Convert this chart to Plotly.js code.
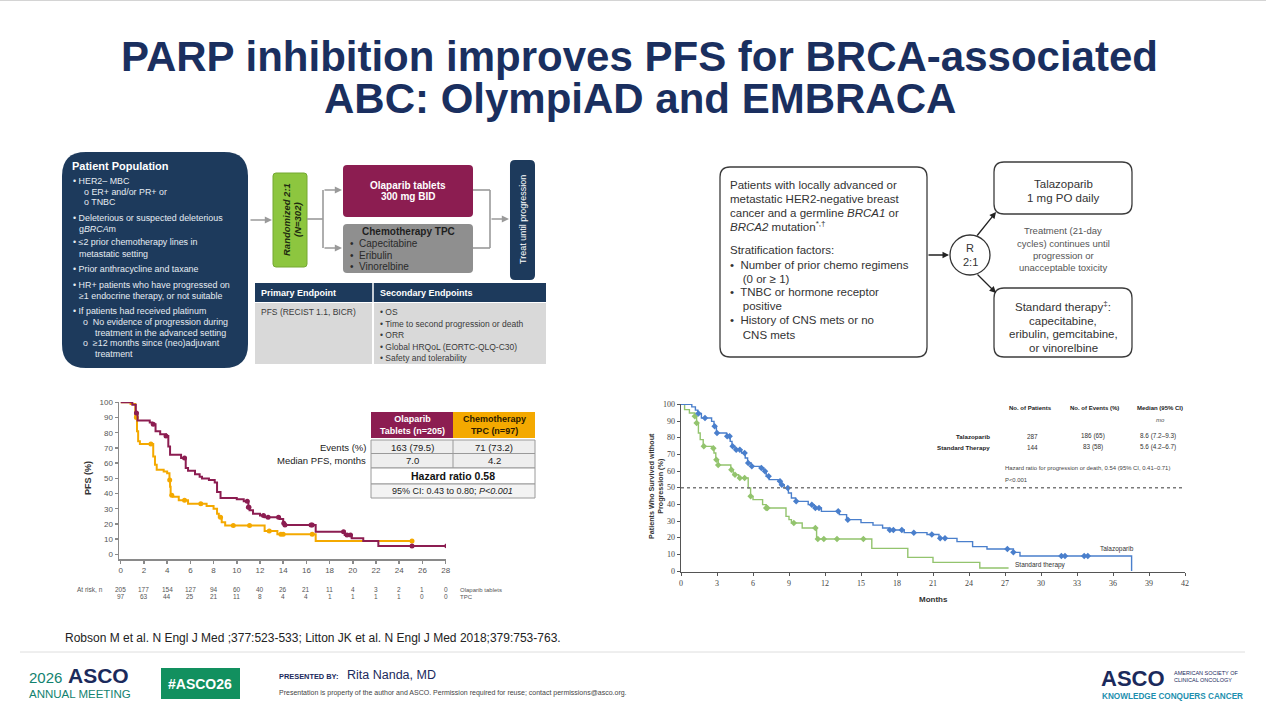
<!DOCTYPE html>
<html>
<head>
<meta charset="utf-8">
<script src="https://cdn.plot.ly/plotly-3.0.1.min.js"></script>
<style>
  html, body { margin: 0; padding: 0; background: #ffffff; }
  #slide { width: 1266px; height: 715px; }
</style>
</head>
<body>
<div id="slide"></div>
<script>
// ---------- OlympiAD: progression-free survival (months, % event-free) ----------
const olapMonths = [0, 1.0, 1.3, 1.45, 2.5, 2.7, 3.0, 3.4, 3.9, 4.1, 4.25, 5.2, 5.6, 5.8, 6.4, 6.8, 7.0, 7.6, 8.1, 8.3,
                    8.6, 10.0, 10.6, 11.0, 11.1, 11.4, 12.0, 12.4, 13.7, 14.0, 14.1, 16.8, 19.3, 19.9, 20.9, 22.2, 28.1];
const olapPfs    = [100, 98.4, 93, 88, 86.7, 85.5, 81, 79, 77.8, 71, 65.5, 63.3, 56.7, 54.9, 52.7, 51, 49.8, 48.9, 47.3, 41,
                    37, 36.2, 34.9, 31, 28.9, 26.7, 25.6, 24.4, 23.3, 20.5, 19.3, 14.9, 12.7, 10.5, 8.7, 5.5, 5.5];
const olapCensored = [1.35, 2.8, 3.9, 5.5, 10.9, 11.0, 11.05, 12.3, 12.7, 13.6, 14.05, 14.15, 16.4, 16.5, 19.2, 19.5, 19.8, 25.1, 28.1];

const tpcMonths = [0, 0.85, 1.25, 1.4, 1.5, 1.65, 2.8, 2.95, 3.1, 3.7, 4.0, 4.2, 4.25, 4.3, 4.5, 5.0, 5.8, 7.4, 8.0, 8.3,
                   8.45, 8.7, 9.0, 12.4, 13.5, 16.8, 25.1];
const tpcPfs    = [100, 98.9, 90, 81, 74.4, 72.5, 64.4, 58.9, 55.6, 54.4, 53.3, 48.9, 44.4, 38.9, 37.8, 35.6, 33.3, 31.8, 30, 26.7,
                   24.4, 21.1, 18.9, 15.3, 13.2, 8.7, 8.7];
const tpcCensored = [1.35, 2.6, 4.22, 4.4, 5.5, 6.9, 8.6, 9.7, 11.1, 12.8, 13.8, 14.0, 16.5, 25.1];

// numbers at risk
const atRiskMonths = [0, 2, 4, 6, 8, 10, 12, 14, 16, 18, 20, 22, 24, 26, 28];
const olapAtRisk   = [205, 177, 154, 127, 94, 60, 40, 26, 21, 11, 4, 3, 2, 1, 0];
const tpcAtRisk    = [97, 63, 44, 25, 21, 11, 8, 4, 4, 1, 1, 1, 1, 0, 0];

// OlympiAD summary table
const olympiadArms    = ['Olaparib<br>Tablets (n=205)', 'Chemotherapy<br>TPC (n=97)'];
const olympiadEvents  = ['163 (79.5)', '71 (73.2)'];
const olympiadMedians = ['7.0', '4.2'];
const olympiadHR      = 'Hazard ratio 0.58';
const olympiadCI      = '95% CI: 0.43 to 0.80; <i>P&lt;0.001</i>';

// ---------- EMBRACA: progression-free survival (months, %) ----------
const talaMonths = [0, 0.9, 1.2, 1.4, 1.7, 2.55, 2.75, 2.95, 3.8, 4.1, 4.25, 4.5, 5.05, 5.35, 5.55, 5.85, 6.6, 6.9, 7.1, 7.35,
                    8.1, 8.3, 8.6, 8.95, 9.2, 9.55, 10.6, 11.1, 11.7, 13.2, 13.8, 15.0, 16.0, 16.8, 17.3, 18.6, 20.5, 21.5, 23.0, 24.3,
                    25.5, 27.7, 28.25, 37.55];
const talaPfs    = [100, 98.5, 96.5, 94.5, 91.8, 89.8, 86.8, 82.8, 80.8, 77.8, 74.8, 72.8, 70.8, 67.8, 64.8, 62.8, 61.8, 59.8, 56.8, 54.8,
                    53.8, 51.8, 49.8, 46.8, 43.8, 41.8, 39.8, 37.8, 35.8, 33.8, 30.8, 29.0, 27.5, 25.8, 24.6, 23.0, 21.9, 19.6, 17.6, 14.6,
                    13.2, 11.2, 9.0, 0];
const talaCensored = [1.45, 2.0, 2.8, 3.0, 3.85, 4.05, 4.3, 4.6, 4.9, 5.3, 5.6, 5.9, 6.7, 7.0, 7.3, 8.25, 8.4, 8.9, 9.6, 10.9,
                      11.2, 11.5, 13.1, 13.9, 17.4, 17.7, 18.4, 19.4, 20.9, 21.6, 22.0, 27.2, 27.7, 31.7, 32.0, 33.6, 33.9];

const stdMonths = [0, 0.3, 0.7, 1.15, 1.3, 1.45, 1.6, 1.85, 2.6, 2.75, 2.9, 3.1, 4.15, 4.35, 4.8, 5.6, 5.8, 6.0, 6.8, 7.1,
                   8.75, 9.0, 9.2, 10.1, 11.3, 15.9, 18.9, 21.0, 24.9, 27.3];
const stdPfs    = [100, 96.8, 94.8, 92.8, 88.8, 82.8, 78.8, 74.8, 73.6, 70.8, 66.8, 63.6, 60.8, 57.8, 55.8, 49.8, 44.8, 42.8, 39.8, 37.8,
                   32.8, 30.8, 28.8, 25.8, 19.2, 13.6, 8.2, 5.2, 1.8, 1.8];
const stdCensored = [1.15, 1.3, 1.9, 2.7, 2.95, 3.1, 4.2, 4.5, 4.9, 5.3, 5.8, 7.1, 7.2, 9.4, 11.2, 11.4, 11.9, 13.0, 15.2];

// EMBRACA summary table
const embracaArms     = ['Talazoparib', 'Standard Therapy'];
const embracaPatients = ['287', '144'];
const embracaEvents   = ['186 (65)', '83 (58)'];
const embracaMedians  = ['8.6 (7.2–9.3)', '5.6 (4.2–6.7)'];
const embracaHR       = 'Hazard ratio for progression or death, 0.54 (95% CI, 0.41–0.71)';
const embracaP        = 'P&lt;0.001';

// ---------- page geometry helpers (pixel -> paper) ----------
const W = 1266, H = 715;
const X = v => v / W;
const Y = v => 1 - v / H;

const SANS   = 'Liberation Sans, Arial, sans-serif';
const NARROW = 'Liberation Sans Narrow, Liberation Sans, Arial, sans-serif';
const SERIF  = 'Liberation Serif, Times New Roman, serif';

const TITLE_NAVY = '#1a2f5f';
const NAVY  = '#1d3a5c';
const PLUM  = '#8c1d51';
const GOLD  = '#f4a900';
const BLUE  = '#4a7fcc';
const GREEN = '#93c46e';
const LIME  = '#8dc63f';
const TEAL  = '#12826f';

const shapes = [];
const annotations = [];

function text(x, y, s, size, color, anchor, family, extra) {
  annotations.push(Object.assign({
    xref: 'paper', yref: 'paper', x: X(x), y: Y(y), text: s, showarrow: false,
    xanchor: anchor || 'center', yanchor: 'middle', align: anchor || 'center',
    font: { family: family || SANS, size: size, color: color }
  }, extra || {}));
}

function rrPath(x0, y0, x1, y1, r) {
  const p = (x, y) => X(x).toFixed(5) + ',' + Y(y).toFixed(5);
  return 'M' + p(x0 + r, y0) + ' L' + p(x1 - r, y0) + ' Q' + p(x1, y0) + ' ' + p(x1, y0 + r) +
         ' L' + p(x1, y1 - r) + ' Q' + p(x1, y1) + ' ' + p(x1 - r, y1) +
         ' L' + p(x0 + r, y1) + ' Q' + p(x0, y1) + ' ' + p(x0, y1 - r) +
         ' L' + p(x0, y0 + r) + ' Q' + p(x0, y0) + ' ' + p(x0 + r, y0) + ' Z';
}

function rrect(x0, y0, x1, y1, r, fill, lineColor, lineWidth) {
  shapes.push({
    type: 'path', xref: 'paper', yref: 'paper', path: rrPath(x0, y0, x1, y1, r),
    fillcolor: fill, line: { color: lineColor || fill, width: lineWidth || 0 }, layer: 'below'
  });
}

function rect(x0, y0, x1, y1, fill, lineColor, lineWidth) {
  shapes.push({
    type: 'rect', xref: 'paper', yref: 'paper', x0: X(x0), x1: X(x1), y0: Y(y1), y1: Y(y0),
    fillcolor: fill, line: { color: lineColor || fill, width: lineWidth || 0 }, layer: 'below'
  });
}

function seg(x0, y0, x1, y1, color, width, dash) {
  shapes.push({
    type: 'line', xref: 'paper', yref: 'paper', x0: X(x0), x1: X(x1), y0: Y(y0), y1: Y(y1),
    line: { color: color, width: width, dash: dash || 'solid' }, layer: 'below'
  });
}

function arrow(x0, y0, x1, y1, color, width, size) {
  annotations.push({
    xref: 'paper', yref: 'paper', x: X(x1), y: Y(y1), ax: x0 - x1, ay: y0 - y1,
    axref: 'pixel', ayref: 'pixel', text: '', showarrow: true, arrowhead: 2,
    arrowsize: size || 1, arrowwidth: width, arrowcolor: color, standoff: 0
  });
}

function stepAt(ts, vs, t) {
  let v = vs[0];
  for (let i = 0; i < ts.length; i++) { if (ts[i] <= t) v = vs[i]; else break; }
  return v;
}

// ---------- title ----------
text(639, 56, '<b>PARP inhibition improves PFS for BRCA-associated</b>', 42, TITLE_NAVY);
text(640, 99, '<b>ABC: OlympiAD and EMBRACA</b>', 42, TITLE_NAVY);
seg(0, 0.5, W, 0.5, '#d4d4d4', 1);

// ---------- OlympiAD design schematic ----------
rrect(62, 152, 248, 368, 24, NAVY);
text(70, 166, '<b>Patient Population</b>', 11, '#ffffff', 'left');
const popLines = [
  [71, 181, '• HER2– MBC'],
  [82, 192, 'o ER+ and/or PR+ or'],
  [82, 202, 'o TNBC'],
  [71, 218, '• Deleterious or suspected deleterious'],
  [77, 228.5, 'g<i>BRCA</i>m'],
  [71, 242, '• ≤2 prior chemotherapy lines in'],
  [77, 254, 'metastatic setting'],
  [71, 269, '• Prior anthracycline and taxane'],
  [71, 285, '• HR+ patients who have progressed on'],
  [77, 296, '≥1 endocrine therapy, or not suitable'],
  [71, 311, '• If patients had received platinum'],
  [81, 322, 'o  No evidence of progression during'],
  [93, 332.5, 'treatment in the advanced setting'],
  [81, 343, 'o  ≥12 months since (neo)adjuvant'],
  [93, 354, 'treatment']
];
popLines.forEach(l => text(l[0], l[1], l[2], 8.9, '#e6ecf2', 'left'));

arrow(249, 220, 272, 220, '#9a9a9a', 1.6, 0.9);
rrect(273, 173, 307, 267, 3, LIME, '#74a832', 1);
text(286, 220, '<b><i>Randomized 2:1</i></b>', 9.5, '#1e2a10', 'center', SANS, { textangle: -90 });
text(297, 220, '<b><i>(N=302)</i></b>', 9.5, '#1e2a10', 'center', SANS, { textangle: -90 });

seg(307, 219, 323, 219, '#9a9a9a', 1.6);
seg(323, 190, 323, 248, '#9a9a9a', 1.6);
arrow(323, 190, 342, 190, '#9a9a9a', 1.6, 0.9);
arrow(323, 248, 342, 248, '#9a9a9a', 1.6, 0.9);

rrect(343, 165, 473, 217, 4, PLUM);
text(408, 185, '<b>Olaparib tablets</b>', 10, '#ffffff');
text(408, 197, '<b>300 mg BID</b>', 10, '#ffffff');

rrect(343, 224, 473, 273, 4, '#8f8f8f');
text(408, 232, '<b>Chemotherapy TPC</b>', 10, '#1f1f1f');
text(348, 243.5, '•  Capecitabine', 10, '#2a2a2a', 'left');
text(348, 255, '•  Eribulin', 10, '#2a2a2a', 'left');
text(348, 267, '•  Vinorelbine', 10, '#2a2a2a', 'left');

seg(473, 190, 490, 190, '#9a9a9a', 1.6);
seg(473, 248, 490, 248, '#9a9a9a', 1.6);
seg(490, 190, 490, 248, '#9a9a9a', 1.6);
arrow(490, 219, 509, 219, '#9a9a9a', 1.6, 0.9);

rrect(510, 160, 535, 280, 5, NAVY);
text(523, 220, 'Treat until progression', 9, '#ffffff', 'center', SANS, { textangle: -90 });

rect(255, 283, 546, 302, NAVY);
seg(373, 283, 373, 302, '#ffffff', 1.5);
rect(255, 303, 546, 364, '#d9d9d9');
seg(373, 303, 373, 364, '#ffffff', 2);
text(259, 293, '<b>Primary Endpoint</b>', 9, '#ffffff', 'left');
text(378, 293, '<b>Secondary Endpoints</b>', 9, '#ffffff', 'left');
text(259, 312, 'PFS (RECIST 1.1, BICR)', 8.5, '#3a3a3a', 'left');
[['• OS', 312], ['• Time to second progression or death', 323.5], ['• ORR', 335],
 ['• Global HRQoL (EORTC-QLQ-C30)', 346.5], ['• Safety and tolerability', 357.5]]
  .forEach(l => text(378, l[1], l[0], 8.5, '#3a3a3a', 'left'));

// ---------- EMBRACA design schematic ----------
rrect(720, 167, 927, 357, 10, 'rgba(0,0,0,0)', '#3c3c3c', 1.3);
const embLines = [
  [185, 'Patients with locally advanced or'],
  [198.5, 'metastatic HER2-negative breast'],
  [212.5, 'cancer and a germline <i>BRCA1</i> or'],
  [226.5, '<i>BRCA2</i> mutation<sup>*,†</sup>'],
  [250, 'Stratification factors:'],
  [265, '•  Number of prior chemo regimens'],
  [278.5, '    (0 or ≥ 1)'],
  [292, '•  TNBC or hormone receptor'],
  [306.5, '    positive'],
  [320, '•  History of CNS mets or no'],
  [335, '    CNS mets']
];
embLines.forEach(l => text(728, l[0], l[1], 11.5, '#333333', 'left'));

arrow(927, 255, 949, 255, '#222222', 1.3, 1);
shapes.push({ type: 'circle', xref: 'paper', yref: 'paper', x0: X(950), x1: X(990), y0: Y(275), y1: Y(235),
  fillcolor: 'rgba(0,0,0,0)', line: { color: '#333333', width: 1.3 } });
text(970, 248, 'R', 11, '#333333');
text(970, 262, '2:1', 11, '#333333');
arrow(976, 237, 996, 212, '#222222', 1.3, 1);
arrow(976, 273, 996, 293, '#222222', 1.3, 1);

rrect(994, 162, 1132, 214, 10, 'rgba(0,0,0,0)', '#3c3c3c', 1.3);
text(1063, 184, 'Talazoparib', 11.5, '#333333');
text(1063, 198, '1 mg PO daily', 11.5, '#333333');
[['Treatment (21-day', 230], ['cycles) continues until', 243], ['progression or', 255.5], ['unacceptable toxicity', 268]]
  .forEach(l => text(1063, l[1], l[0], 9.5, '#555555'));
rrect(994, 288, 1132, 357, 10, 'rgba(0,0,0,0)', '#3c3c3c', 1.3);
[['Standard therapy<sup>‡</sup>:', 306], ['capecitabine,', 321], ['eribulin, gemcitabine,', 334], ['or vinorelbine', 348]]
  .forEach(l => text(1063, l[1], l[0], 11.5, '#333333'));

// ---------- OlympiAD KM summary table ----------
rect(371, 412, 453, 438, PLUM);
rect(453, 412, 535, 438, GOLD);
text(412, 425, '<b>' + olympiadArms[0] + '</b>', 9, '#ffffff');
text(494, 425, '<b>' + olympiadArms[1] + '</b>', 9, '#2a1a00');
rect(371, 440, 535, 468, '#eeeeee', '#9a9a9a', 1);
seg(371, 453.5, 535, 453.5, '#9a9a9a', 1);
seg(453, 440, 453, 468, '#9a9a9a', 1);
rect(371, 468, 535, 484, '#ffffff', '#9a9a9a', 1);
rect(371, 484, 535, 498, '#f3f3f3', '#9a9a9a', 1);
text(368, 447, 'Events (%)', 9.5, '#222222', 'right');
text(368, 460.5, 'Median PFS, months', 9.5, '#222222', 'right');
text(412, 447, olympiadEvents[0], 9.5, '#222222');
text(494, 447, olympiadEvents[1], 9.5, '#222222');
text(412, 460.5, olympiadMedians[0], 9.5, '#222222');
text(494, 460.5, olympiadMedians[1], 9.5, '#222222');
text(453, 476, '<b>' + olympiadHR + '</b>', 10.5, '#111111');
text(453, 491, olympiadCI, 9, '#222222');

// at-risk table under the OlympiAD curve
text(90, 589, 'At risk, n', 6.5, '#555555');
atRiskMonths.forEach((m, i) => {
  annotations.push({ xref: 'x', yref: 'paper', x: m, y: Y(589), text: String(olapAtRisk[i]), showarrow: false,
    font: { family: SANS, size: 6.5, color: '#555555' }, yanchor: 'middle' });
  annotations.push({ xref: 'x', yref: 'paper', x: m, y: Y(596.5), text: String(tpcAtRisk[i]), showarrow: false,
    font: { family: SANS, size: 6.5, color: '#555555' }, yanchor: 'middle' });
});
text(458, 590, 'Olaparib tablets', 6, '#555555', 'left');
text(458, 597, 'TPC', 6, '#555555', 'left');
text(88, 478, '<b>PFS (%)</b>', 9, '#333333', 'center', SANS, { textangle: -90 });

// ---------- EMBRACA KM text ----------
text(656, 486, '<b>Patients Who Survived without<br>Progression (%)</b>', 7.2, '#333333', 'center', NARROW, { textangle: -90 });
text(933, 599, '<b>Months</b>', 8, '#333333', 'center', NARROW);
text(1030, 408, '<b>No. of Patients</b>', 6, '#222222', 'center', NARROW);
text(1094, 408, '<b>No. of Events (%)</b>', 6, '#222222', 'center', NARROW);
text(1160, 408, '<b>Median (95% CI)</b>', 6, '#222222', 'center', NARROW);
text(1160, 420, '<i>mo</i>', 6, '#444444', 'center', NARROW);
[436, 447].forEach((yy, i) => {
  text(992, yy, '<b>' + embracaArms[i] + '</b>', 6.2, '#222222', 'right', NARROW);
  text(1032, yy, embracaPatients[i], 6.4, '#333333', 'center', NARROW);
  text(1093, yy, embracaEvents[i], 6.4, '#333333', 'center', NARROW);
  text(1158, yy, embracaMedians[i], 6.4, '#333333', 'center', NARROW);
});
text(1003, 468, embracaHR, 5.9, '#444444', 'left', NARROW);
text(1003, 479.5, embracaP, 5.9, '#444444', 'left', NARROW);
annotations.push({ xref: 'x2', yref: 'y2', x: 34.75, y: 13.2, text: 'Talazoparib', showarrow: false,
  xanchor: 'left', yanchor: 'middle', font: { family: NARROW, size: 6.5, color: '#333333' } });
annotations.push({ xref: 'x2', yref: 'y2', x: 27.65, y: 3.6, text: 'Standard therapy', showarrow: false,
  xanchor: 'left', yanchor: 'middle', font: { family: NARROW, size: 6.5, color: '#333333' } });
shapes.push({ type: 'line', xref: 'x2', yref: 'y2', x0: 0, x1: 42, y0: 50, y1: 50,
  line: { color: '#7a7a7a', width: 1.5, dash: 'dot' } });

// ---------- citation and footer ----------
text(63, 638, 'Robson M et al. N Engl J Med ;377:523-533; Litton JK et al. N Engl J Med 2018;379:753-763.', 12, '#222222', 'left');
seg(20, 652, 1245, 652, '#dedede', 1);
text(27, 677, '2026', 15, TEAL, 'left');
text(66, 675, '<b>ASCO</b>', 21, '#1b2a5c', 'left');
text(27, 694, 'ANNUAL MEETING', 11.5, TEAL, 'left');
rect(161, 668, 240, 699, '#12905f');
text(200.5, 683.5, '<b>#ASCO26</b>', 14, '#ffffff');
text(277, 676, '<b>PRESENTED BY:</b>', 7.4, '#1b2a5c', 'left');
text(345, 675, 'Rita Nanda, MD', 12.5, '#1b2a5c', 'left');
text(277, 693, 'Presentation is property of the author and ASCO. Permission required for reuse; contact permissions@asco.org.', 7, '#444444', 'left');
text(1099, 678, '<b>ASCO</b>', 22, '#1b2a5c', 'left');
text(1172, 673, 'AMERICAN SOCIETY OF', 5.5, '#1b2a5c', 'left');
text(1172, 680, 'CLINICAL ONCOLOGY', 5.5, '#1b2a5c', 'left');
text(1100, 696, '<b>KNOWLEDGE CONQUERS CANCER</b>', 8.2, '#1d8fae', 'left');

// ---------- curves ----------
function curve(xs, ys, color, width, xa, ya) {
  return { type: 'scatter', mode: 'lines', x: xs, y: ys, xaxis: xa, yaxis: ya,
    line: { shape: 'hv', color: color, width: width }, hoverinfo: 'skip' };
}
function censor(times, xs, ys, color, symbol, size, xa, ya) {
  return { type: 'scatter', mode: 'markers', x: times, y: times.map(t => stepAt(xs, ys, t)),
    xaxis: xa, yaxis: ya, marker: { symbol: symbol, size: size, color: color }, hoverinfo: 'skip' };
}

const data = [
  curve(tpcMonths, tpcPfs, GOLD, 2, 'x', 'y'),
  censor(tpcCensored, tpcMonths, tpcPfs, GOLD, 'circle', 5, 'x', 'y'),
  curve(olapMonths, olapPfs, PLUM, 2, 'x', 'y'),
  censor(olapCensored, olapMonths, olapPfs, PLUM, 'circle', 5, 'x', 'y'),
  curve(stdMonths, stdPfs, GREEN, 1.4, 'x2', 'y2'),
  censor(stdCensored, stdMonths, stdPfs, GREEN, 'diamond', 5, 'x2', 'y2'),
  curve(talaMonths, talaPfs, BLUE, 1.4, 'x2', 'y2'),
  censor(talaCensored, talaMonths, talaPfs, BLUE, 'diamond', 5, 'x2', 'y2')
];

const axisCommon = {
  showgrid: false, zeroline: false, showline: true, ticks: 'outside', fixedrange: true
};

const layout = {
  width: W, height: H,
  margin: { l: 0, r: 0, t: 0, b: 0 },
  paper_bgcolor: '#ffffff', plot_bgcolor: 'rgba(0,0,0,0)',
  showlegend: false,
  xaxis: Object.assign({}, axisCommon, {
    domain: [X(119), X(446)], range: [-0.15, 28.03], anchor: 'y',
    tickmode: 'linear', tick0: 0, dtick: 2, ticklen: 3, tickwidth: 1.5,
    linecolor: '#8a8a8a', linewidth: 1.5, tickcolor: '#8a8a8a',
    tickfont: { family: SANS, size: 8, color: '#555555' }
  }),
  yaxis: Object.assign({}, axisCommon, {
    domain: [Y(559), Y(402)], range: [-3.1, 100.2], anchor: 'x',
    tickmode: 'linear', tick0: 0, dtick: 10, ticklen: 3, tickwidth: 1.5,
    linecolor: '#8a8a8a', linewidth: 1.5, tickcolor: '#8a8a8a',
    tickfont: { family: SANS, size: 8, color: '#555555' }
  }),
  xaxis2: Object.assign({}, axisCommon, {
    domain: [X(681), X(1185)], range: [0, 42], anchor: 'y2',
    tickmode: 'linear', tick0: 0, dtick: 3, ticklen: 3, tickwidth: 1,
    linecolor: '#555555', linewidth: 1.3, tickcolor: '#555555',
    tickfont: { family: SERIF, size: 8, color: '#444444' }
  }),
  yaxis2: Object.assign({}, axisCommon, {
    domain: [Y(572), Y(404)], range: [-0.6, 100.2], anchor: 'x2',
    tickmode: 'linear', tick0: 0, dtick: 10, ticklen: 3, tickwidth: 1,
    linecolor: '#555555', linewidth: 1.3, tickcolor: '#555555',
    tickfont: { family: SERIF, size: 8, color: '#444444' }
  }),
  shapes: shapes,
  annotations: annotations
};

Plotly.newPlot('slide', data, layout, { displayModeBar: false, staticPlot: true });
</script>
</body>
</html>
